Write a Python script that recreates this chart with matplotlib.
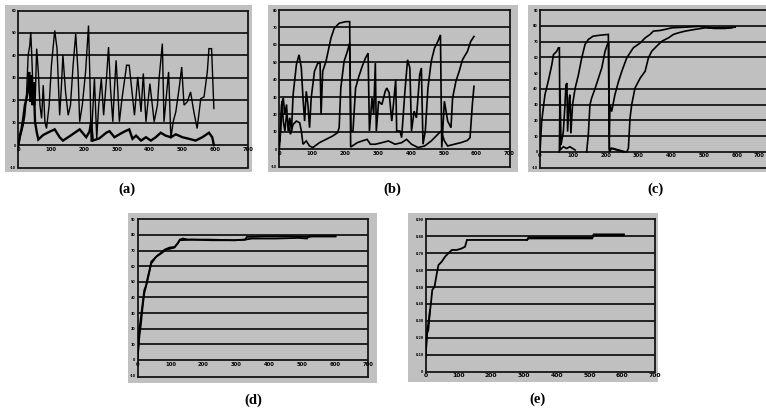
import matplotlib
matplotlib.use("Agg")
from matplotlib import pyplot as plt
from matplotlib.patches import Rectangle
from matplotlib.transforms import ScaledTranslation

# ---- data (x in tick units, y in gridline units) ----
a_big_x = [0.00, 0.05, 0.10, 0.15, 0.20, 0.25, 0.30, 0.35, 0.38, 0.41, 0.45, 0.51, 0.56, 0.61, 0.66, 0.71,
           0.76, 0.81, 0.86, 0.94, 1.01, 1.11, 1.18, 1.26, 1.31, 1.36, 1.44, 1.52, 1.59, 1.67, 1.75, 1.82,
           1.87, 1.95, 2.05, 2.14, 2.19, 2.22, 2.32, 2.39, 2.45, 2.53, 2.60, 2.68, 2.75, 2.81, 2.88, 2.93,
           2.98, 3.03, 3.08, 3.16, 3.23, 3.30, 3.38, 3.54, 3.64, 3.74, 3.81, 3.89, 4.01, 4.14, 4.24, 4.29,
           4.39, 4.44, 4.58, 4.65, 4.72, 4.80, 4.90, 4.98, 5.05, 5.15, 5.25, 5.35, 5.45, 5.56, 5.66, 5.76,
           5.81, 5.89, 5.96]
a_big_y = [-0.10, 0.30, 0.59, 0.89, 1.33, 2.22, 4.00, 4.44, 5.04, 4.00, 2.37, 1.78, 4.30, 3.26, 1.78, 1.19,
           2.67, 1.04, 0.74, 1.78, 3.56, 5.11, 4.30, 1.33, 2.52, 4.00, 2.37, 1.33, 1.78, 3.56, 4.96, 3.26,
           1.04, 1.78, 3.26, 5.33, 2.52, 0.15, 2.96, 0.30, 1.78, 2.96, 1.33, 2.81, 4.37, 2.52, 1.04, 2.52,
           3.78, 2.52, 1.04, 2.07, 2.81, 3.56, 3.56, 1.33, 3.04, 1.48, 3.19, 1.04, 2.74, 1.04, 1.78, 2.96,
           4.52, 1.04, 3.26, 0.30, 1.04, 1.48, 2.52, 3.48, 1.78, 1.93, 2.37, 1.48, 0.74, 2.07, 2.15, 3.26,
           4.30, 4.30, 1.63]
a_low_x = [0.00, 0.05, 0.10, 0.15, 0.20, 0.25, 0.30, 0.33, 0.37, 0.40, 0.43, 0.47, 0.51, 0.56, 0.61, 0.76,
           0.96, 1.11, 1.26, 1.36, 1.52, 1.72, 1.87, 2.07, 2.17, 2.22, 2.27, 2.47, 2.68, 2.78, 2.93, 3.08,
           3.23, 3.38, 3.48, 3.59, 3.74, 3.89, 4.04, 4.19, 4.34, 4.49, 4.65, 4.80, 5.00, 5.20, 5.40, 5.61,
           5.81, 5.91, 5.96]
a_low_y = [0.00, 0.44, 0.74, 1.19, 1.78, 2.07, 2.52, 3.26, 1.93, 3.11, 1.78, 2.81, 1.04, 0.59, 0.25, 0.45,
           0.60, 0.70, 0.35, 0.20, 0.35, 0.55, 0.70, 0.35, 0.60, 1.04, 0.20, 0.30, 0.55, 0.62, 0.35, 0.48,
           0.60, 0.70, 0.28, 0.42, 0.20, 0.35, 0.20, 0.35, 0.55, 0.42, 0.35, 0.48, 0.35, 0.28, 0.20, 0.35,
           0.55, 0.35, 0.00]

b1_x = [0.02, 0.07, 0.12, 0.17, 0.22, 0.27, 0.32, 0.37, 0.42, 0.52, 0.60, 0.67, 0.72, 0.77, 0.82, 0.87,
        0.92, 0.97, 1.07, 1.17, 1.24, 1.27, 1.32, 1.42, 1.57, 1.67, 1.82, 2.02, 2.14, 2.17, 2.37, 2.52,
        2.67, 2.77, 2.92, 3.12, 3.32, 3.52, 3.72, 3.87, 4.02, 4.22, 4.42, 4.62, 4.82, 4.92, 5.02, 5.12,
        5.32, 5.52, 5.72, 5.80, 5.87, 5.92]
b1_y = [0.48, 2.57, 2.95, 2.00, 2.57, 1.05, 1.81, 1.05, 3.14, 4.86, 5.43, 4.67, 2.95, 1.62, 3.33, 2.57,
        1.24, 2.95, 4.48, 4.95, 4.95, 2.00, 4.48, 5.05, 6.38, 6.95, 7.24, 7.33, 7.33, 0.13, 0.38, 0.48,
        0.57, 0.29, 0.29, 0.38, 0.48, 0.29, 0.38, 0.57, 0.29, 0.10, 0.19, 0.48, 0.86, 1.05, 0.48, 0.19,
        0.29, 0.38, 0.51, 0.67, 2.57, 3.62]
b2_x = [0.00, 0.04, 0.08, 0.12, 0.17, 0.22, 0.27, 0.34, 0.42, 0.52, 0.62, 0.67, 0.72, 0.82, 0.92, 1.02,
        1.22, 1.42, 1.62, 1.77, 1.82, 1.87, 1.97, 2.07, 2.14, 2.18, 2.24, 2.32, 2.42, 2.52, 2.62, 2.70,
        2.74, 2.82, 2.87, 2.92, 2.95, 3.02, 3.12, 3.22, 3.27, 3.34, 3.42, 3.47, 3.54, 3.57, 3.67, 3.72,
        3.82, 3.90, 3.97, 4.02, 4.10, 4.17, 4.27, 4.32, 4.37, 4.44, 4.52, 4.62, 4.72, 4.82, 4.90, 4.94,
        5.02, 5.12, 5.22, 5.27, 5.37, 5.47, 5.57, 5.72, 5.82, 5.92]
b2_y = [0.00, 1.05, 2.76, 1.62, 1.05, 2.00, 1.43, 0.86, 1.43, 1.62, 1.52, 1.05, 0.29, 0.48, 0.19, 0.10,
        0.38, 0.57, 0.76, 0.95, 1.24, 3.52, 5.05, 5.62, 6.10, 1.05, 1.05, 3.52, 4.19, 4.76, 5.24, 5.52,
        1.05, 2.95, 2.00, 4.95, 1.05, 2.76, 2.57, 3.33, 3.52, 3.24, 1.62, 2.57, 4.00, 1.05, 1.05, 0.67,
        3.33, 5.14, 4.67, 1.05, 2.19, 1.81, 4.29, 4.67, 0.29, 1.05, 3.52, 5.05, 5.81, 6.19, 6.57, 0.10,
        2.76, 1.62, 1.24, 2.95, 3.90, 4.48, 5.14, 5.62, 6.19, 6.48]

c1_x = [0.00, 0.05, 0.10, 0.15, 0.25, 0.36, 0.41, 0.51, 0.56, 0.59, 0.61, 0.71, 0.81, 0.91, 1.07]
c1_y = [0.00, 1.91, 2.77, 3.62, 4.47, 5.53, 6.17, 6.38, 6.60, 6.60, 0.11, 0.32, 0.21, 0.32, 0.11]
c2_x = [0.59, 0.61, 0.64, 0.71, 0.76, 0.79, 0.82, 0.84, 0.89, 0.91, 0.94, 0.99, 1.07, 1.17, 1.27, 1.37,
        1.47, 1.62, 1.83, 2.08, 2.11, 2.18, 2.34, 2.54]
c2_y = [0.00, 4.04, 0.43, 1.28, 2.98, 4.26, 4.36, 1.28, 3.40, 3.62, 1.17, 2.98, 4.04, 4.89, 5.96, 6.81,
        7.13, 7.34, 7.40, 7.45, 0.00, 0.21, 0.11, 0.00]
c3_x = [1.42, 1.47, 1.52, 1.57, 1.68, 1.78, 1.88, 1.98, 2.05, 2.09, 2.11, 2.23, 2.39, 2.59]
c3_y = [0.00, 1.06, 2.98, 3.40, 4.04, 4.68, 5.32, 6.38, 6.81, 6.91, 0.21, 0.21, 0.11, 0.00]
c4_x = [2.11, 2.13, 2.18, 2.28, 2.39, 2.49, 2.64, 2.84, 3.05, 3.20, 3.35, 3.45, 3.65, 3.81, 4.01, 4.42,
        4.82, 5.23, 5.63, 5.94]
c4_y = [1.06, 2.98, 2.55, 3.62, 4.47, 5.11, 5.96, 6.60, 6.91, 7.23, 7.45, 7.66, 7.70, 7.77, 7.87, 7.91,
        7.96, 7.87, 7.87, 7.91]
c5_x = [2.64, 2.69, 2.74, 2.79, 2.89, 3.05, 3.20, 3.30, 3.40, 3.55, 3.71, 3.91, 4.06, 4.21, 4.42, 4.72,
        5.03, 5.33, 5.63, 5.84]
c5_y = [0.00, 0.21, 2.13, 2.98, 4.04, 4.68, 5.11, 5.96, 6.38, 6.70, 7.02, 7.23, 7.45, 7.55, 7.66, 7.77,
        7.87, 7.83, 7.83, 7.87]

d1_x = [0.00, 0.02, 0.05, 0.10, 0.15, 0.20, 0.26, 0.31, 0.36, 0.41, 0.51, 0.61, 0.71, 0.82, 0.97, 1.12,
        1.22, 1.28, 1.38, 1.53, 2.14, 2.96, 3.27, 3.32, 3.88, 4.69, 5.20, 5.31, 6.02]
d1_y = [0.00, 0.85, 1.91, 2.77, 3.62, 4.47, 4.79, 5.32, 5.74, 6.28, 6.49, 6.70, 6.85, 7.06, 7.19, 7.23,
        7.45, 7.70, 7.77, 7.70, 7.70, 7.66, 7.70, 7.87, 7.91, 7.91, 7.87, 7.91, 7.91]
d2_x = [0.00, 0.05, 0.10, 0.15, 0.20, 0.31, 0.41, 0.56, 0.71, 0.87, 1.12, 1.28, 1.63, 2.24, 2.96, 3.27,
        3.47, 4.18, 4.90, 5.15, 5.20, 5.71, 6.02]
d2_y = [0.21, 1.49, 2.34, 3.40, 4.26, 5.21, 6.17, 6.60, 6.81, 7.06, 7.19, 7.66, 7.70, 7.66, 7.66, 7.70,
        7.77, 7.77, 7.81, 7.77, 7.91, 7.91, 7.91]

e1_x = [0.00, 0.03, 0.05, 0.08, 0.11, 0.16, 0.20, 0.27, 0.34, 0.39, 0.49, 0.59, 0.69, 0.80, 0.95, 1.10,
        1.20, 1.26, 2.12, 3.09, 3.14, 4.37, 5.08, 5.13, 6.05]
e1_y = [1.08, 2.07, 2.46, 2.85, 3.25, 4.04, 4.82, 5.02, 5.81, 6.30, 6.50, 6.79, 6.99, 7.19, 7.19, 7.28,
        7.38, 7.78, 7.78, 7.78, 7.93, 7.93, 7.93, 8.11, 8.11]
e2_x = [0.00, 0.04, 0.08, 0.13]
e2_y = [0.89, 2.26, 2.46, 3.64]
e3_x = [3.09, 3.14, 5.08, 5.13, 6.05]
e3_y = [7.78, 7.87, 7.87, 8.05, 8.05]

x_labels = ['0', '100', '200', '300', '400', '500', '600', '700']
y_labels_a = ['-10', '0', '10', '20', '30', '40', '50', '60']
y_labels_b = ['-10', '0', '10', '20', '30', '40', '50', '60', '70', '80']
y_labels_c = ['-10', '0', '10', '20', '30', '40', '50', '60', '70', '80', '90']
y_labels_e = ['0', '0.10', '0.20', '0.30', '0.40', '0.50', '0.60', '0.70', '0.80', '0.90']
panel_names = ['(a)', '(b)', '(c)', '(d)', '(e)']

W, H = 766, 412
GRAY = '#c0c0c0'
fig = plt.figure(figsize=(W / 100, H / 100), dpi=100)
fig.patch.set_facecolor('white')


def px_rect(x0, x1, y0, y1):
    return [x0 / W, 1 - y1 / H, (x1 - x0) / W, (y1 - y0) / H]


def panel(area, plot, ylo, yhi, grid, ylabels, series, name, name_xy, xfs=3.8, last_x=7):
    # chart area (grey frame round the plot)
    fig.patches.append(Rectangle((area[0] / W, 1 - area[3] / H), (area[1] - area[0]) / W,
                                 (area[3] - area[2]) / H, transform=fig.transFigure,
                                 facecolor=GRAY, edgecolor='none', zorder=-5))
    ax = fig.add_axes(px_rect(*plot))
    ax.set_zorder(2)
    ax.set_facecolor(GRAY)
    ax.set_xlim(0, 7)
    ax.set_ylim(ylo, yhi)
    ax.hlines(grid, 0, 7, colors='#151515', lw=1.3, zorder=1)
    for s in ax.spines.values():
        s.set_color('#151515')
        s.set_linewidth(1.3)
    ax.set_xticks([])
    yt = list(range(int(round(ylo)), int(round(yhi)) + 1))
    ax.set_yticks(yt)
    ax.set_yticklabels(ylabels, fontsize=2.4, fontweight='bold')
    ax.tick_params(axis='y', length=0, pad=1.5)
    base = 0 if ylo < 0 else ylo
    shift = ax.transData + ScaledTranslation(0, -1.2 / 72, fig.dpi_scale_trans)
    for i, lab in enumerate(x_labels):
        xi = min(i, last_x)
        ax.text(xi, base, lab, ha='right' if xi < i else 'center', va='top', fontsize=xfs,
                fontweight='bold', clip_on=False, zorder=4, transform=shift)
    for xs, ys, lw in series:
        ax.plot(xs, ys, color='black', lw=lw, zorder=3, solid_joinstyle='miter')
    fig.text(name_xy[0] / W, 1 - name_xy[1] / H, name, ha='center', va='center',
             fontsize=10.5, fontweight='bold', family='Liberation Serif')
    return ax


panel((5, 252, 5, 172), (18.3, 248, 10.5, 167.5), -0.95, 6, [0, 1, 2, 3, 4, 5],
      y_labels_a, [(a_big_x, a_big_y, 1.0), (a_low_x, a_low_y, 1.7)], panel_names[0], (127, 189))
panel((268, 518, 5, 172), (279.3, 509.5, 10, 166.7), -0.95, 8, [0, 1, 2, 3, 4, 5, 6, 7],
      y_labels_b, [(b1_x, b1_y, 1.2), (b2_x, b2_y, 1.2)], panel_names[1], (392, 189))
panel((528, 770, 5, 172), (540, 770, 10, 168.3), -1.05, 9, [0, 1, 2, 3, 4, 6, 7, 8],
      y_labels_c, [(c1_x, c1_y, 1.2), (c2_x, c2_y, 1.2), (c3_x, c3_y, 1.2),
                   (c4_x, c4_y, 1.2), (c5_x, c5_y, 1.2)], panel_names[2], (655, 189), last_x=6.84)
panel((128, 377, 213, 383), (137.7, 367.7, 219.3, 376.7), -1.07, 9, [0, 1, 2, 3, 4, 5, 6, 7, 8],
      y_labels_c, [(d1_x, d1_y, 1.3), (d2_x, d2_y, 1.3)], panel_names[3], (253, 400))
panel((408, 658, 213, 382), (425.7, 655, 219.3, 371.7), 0, 9, [1, 2, 3, 4, 5, 6, 7, 8],
      y_labels_e, [(e1_x, e1_y, 1.3), (e2_x, e2_y, 1.3), (e3_x, e3_y, 1.3)],
      panel_names[4], (537, 399), xfs=4.4)

fig.savefig('out.png', dpi=100)
